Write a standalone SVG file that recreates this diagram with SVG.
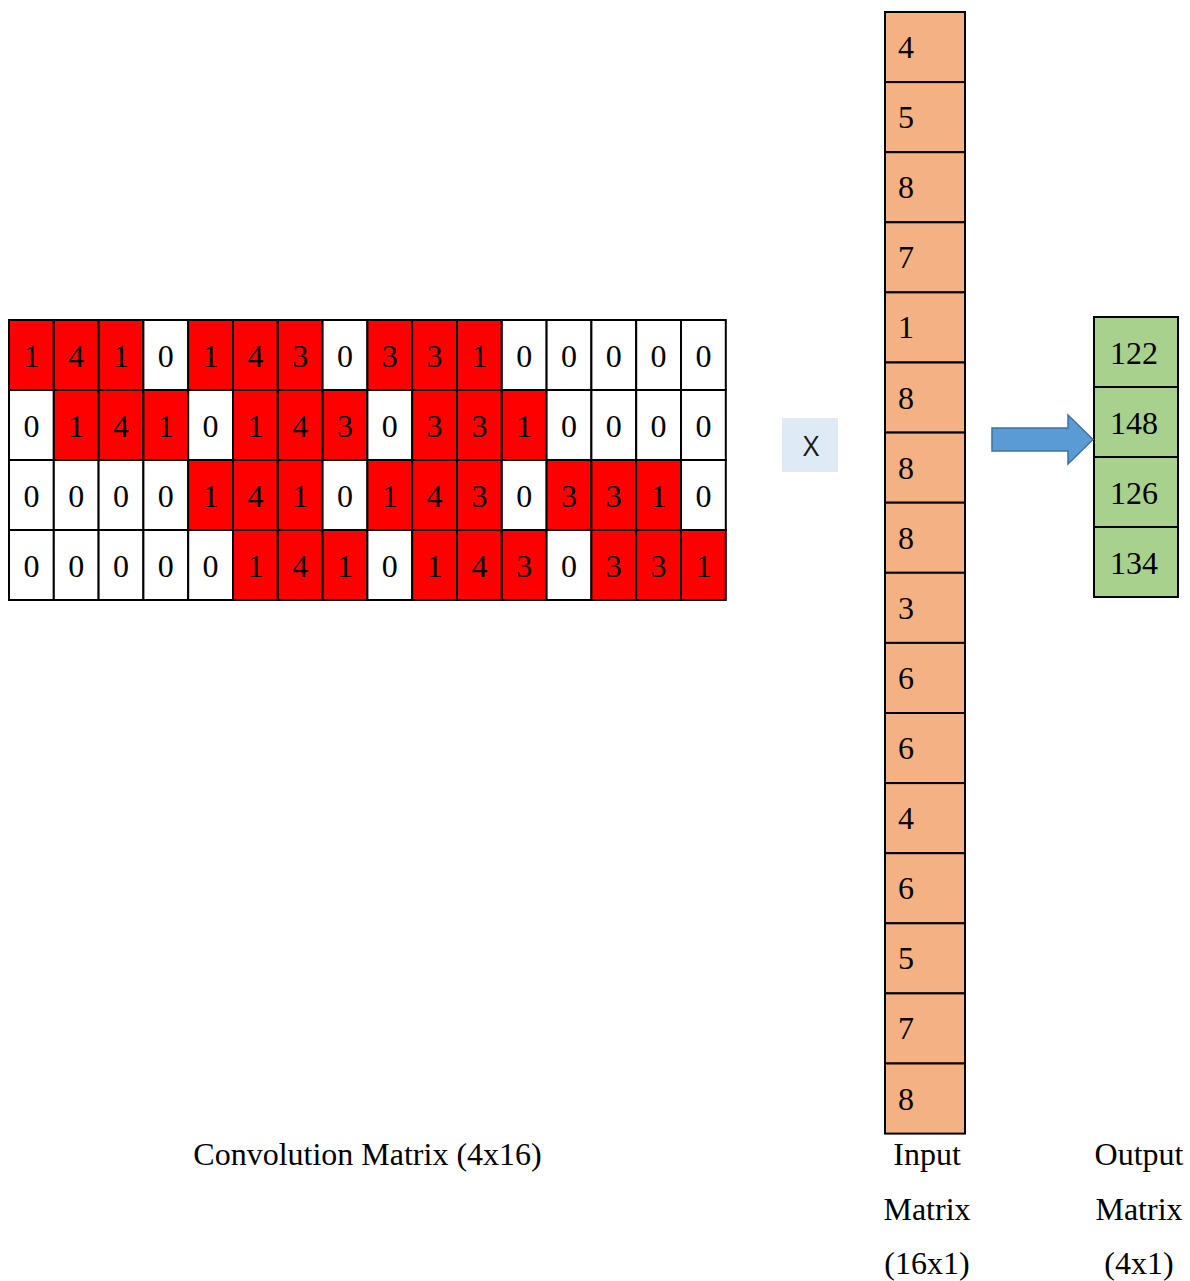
<svg xmlns="http://www.w3.org/2000/svg" width="1190" height="1281" viewBox="0 0 1190 1281">
<style>
.t{font-family:"Liberation Serif","Times New Roman",serif;font-size:32px;fill:#000}
.c{text-anchor:middle}
.r{fill:#FF0000;stroke:#000;stroke-width:2}
.w{fill:#FFFFFF;stroke:#000;stroke-width:2}
.in{fill:#F4B183;stroke:#000;stroke-width:2}
.out{fill:#A9D18E;stroke:#000;stroke-width:2}
</style>
<rect width="1190" height="1281" fill="#fff"/>
<g id="conv-matrix">
<rect class="r" x="9" y="320" width="44.8" height="70"/><rect class="r" x="53.8" y="320" width="44.8" height="70"/><rect class="r" x="98.6" y="320" width="44.8" height="70"/><rect class="w" x="143.4" y="320" width="44.8" height="70"/><rect class="r" x="188.2" y="320" width="44.8" height="70"/><rect class="r" x="233" y="320" width="44.8" height="70"/><rect class="r" x="277.8" y="320" width="44.8" height="70"/><rect class="w" x="322.6" y="320" width="44.8" height="70"/><rect class="r" x="367.4" y="320" width="44.8" height="70"/><rect class="r" x="412.2" y="320" width="44.8" height="70"/><rect class="r" x="457" y="320" width="44.8" height="70"/><rect class="w" x="501.8" y="320" width="44.8" height="70"/><rect class="w" x="546.6" y="320" width="44.8" height="70"/><rect class="w" x="591.4" y="320" width="44.8" height="70"/><rect class="w" x="636.2" y="320" width="44.8" height="70"/><rect class="w" x="681" y="320" width="44.8" height="70"/>
<rect class="w" x="9" y="390" width="44.8" height="70"/><rect class="r" x="53.8" y="390" width="44.8" height="70"/><rect class="r" x="98.6" y="390" width="44.8" height="70"/><rect class="r" x="143.4" y="390" width="44.8" height="70"/><rect class="w" x="188.2" y="390" width="44.8" height="70"/><rect class="r" x="233" y="390" width="44.8" height="70"/><rect class="r" x="277.8" y="390" width="44.8" height="70"/><rect class="r" x="322.6" y="390" width="44.8" height="70"/><rect class="w" x="367.4" y="390" width="44.8" height="70"/><rect class="r" x="412.2" y="390" width="44.8" height="70"/><rect class="r" x="457" y="390" width="44.8" height="70"/><rect class="r" x="501.8" y="390" width="44.8" height="70"/><rect class="w" x="546.6" y="390" width="44.8" height="70"/><rect class="w" x="591.4" y="390" width="44.8" height="70"/><rect class="w" x="636.2" y="390" width="44.8" height="70"/><rect class="w" x="681" y="390" width="44.8" height="70"/>
<rect class="w" x="9" y="460" width="44.8" height="70"/><rect class="w" x="53.8" y="460" width="44.8" height="70"/><rect class="w" x="98.6" y="460" width="44.8" height="70"/><rect class="w" x="143.4" y="460" width="44.8" height="70"/><rect class="r" x="188.2" y="460" width="44.8" height="70"/><rect class="r" x="233" y="460" width="44.8" height="70"/><rect class="r" x="277.8" y="460" width="44.8" height="70"/><rect class="w" x="322.6" y="460" width="44.8" height="70"/><rect class="r" x="367.4" y="460" width="44.8" height="70"/><rect class="r" x="412.2" y="460" width="44.8" height="70"/><rect class="r" x="457" y="460" width="44.8" height="70"/><rect class="w" x="501.8" y="460" width="44.8" height="70"/><rect class="r" x="546.6" y="460" width="44.8" height="70"/><rect class="r" x="591.4" y="460" width="44.8" height="70"/><rect class="r" x="636.2" y="460" width="44.8" height="70"/><rect class="w" x="681" y="460" width="44.8" height="70"/>
<rect class="w" x="9" y="530" width="44.8" height="70"/><rect class="w" x="53.8" y="530" width="44.8" height="70"/><rect class="w" x="98.6" y="530" width="44.8" height="70"/><rect class="w" x="143.4" y="530" width="44.8" height="70"/><rect class="w" x="188.2" y="530" width="44.8" height="70"/><rect class="r" x="233" y="530" width="44.8" height="70"/><rect class="r" x="277.8" y="530" width="44.8" height="70"/><rect class="r" x="322.6" y="530" width="44.8" height="70"/><rect class="w" x="367.4" y="530" width="44.8" height="70"/><rect class="r" x="412.2" y="530" width="44.8" height="70"/><rect class="r" x="457" y="530" width="44.8" height="70"/><rect class="r" x="501.8" y="530" width="44.8" height="70"/><rect class="w" x="546.6" y="530" width="44.8" height="70"/><rect class="r" x="591.4" y="530" width="44.8" height="70"/><rect class="r" x="636.2" y="530" width="44.8" height="70"/><rect class="r" x="681" y="530" width="44.8" height="70"/>
<g class="t c">
<text x="31.4" y="366.5">1</text><text x="76.2" y="366.5">4</text><text x="121" y="366.5">1</text><text x="165.8" y="366.5">0</text><text x="210.6" y="366.5">1</text><text x="255.4" y="366.5">4</text><text x="300.2" y="366.5">3</text><text x="345" y="366.5">0</text><text x="389.8" y="366.5">3</text><text x="434.6" y="366.5">3</text><text x="479.4" y="366.5">1</text><text x="524.2" y="366.5">0</text><text x="569" y="366.5">0</text><text x="613.8" y="366.5">0</text><text x="658.6" y="366.5">0</text><text x="703.4" y="366.5">0</text>
<text x="31.4" y="436.5">0</text><text x="76.2" y="436.5">1</text><text x="121" y="436.5">4</text><text x="165.8" y="436.5">1</text><text x="210.6" y="436.5">0</text><text x="255.4" y="436.5">1</text><text x="300.2" y="436.5">4</text><text x="345" y="436.5">3</text><text x="389.8" y="436.5">0</text><text x="434.6" y="436.5">3</text><text x="479.4" y="436.5">3</text><text x="524.2" y="436.5">1</text><text x="569" y="436.5">0</text><text x="613.8" y="436.5">0</text><text x="658.6" y="436.5">0</text><text x="703.4" y="436.5">0</text>
<text x="31.4" y="506.5">0</text><text x="76.2" y="506.5">0</text><text x="121" y="506.5">0</text><text x="165.8" y="506.5">0</text><text x="210.6" y="506.5">1</text><text x="255.4" y="506.5">4</text><text x="300.2" y="506.5">1</text><text x="345" y="506.5">0</text><text x="389.8" y="506.5">1</text><text x="434.6" y="506.5">4</text><text x="479.4" y="506.5">3</text><text x="524.2" y="506.5">0</text><text x="569" y="506.5">3</text><text x="613.8" y="506.5">3</text><text x="658.6" y="506.5">1</text><text x="703.4" y="506.5">0</text>
<text x="31.4" y="576.5">0</text><text x="76.2" y="576.5">0</text><text x="121" y="576.5">0</text><text x="165.8" y="576.5">0</text><text x="210.6" y="576.5">0</text><text x="255.4" y="576.5">1</text><text x="300.2" y="576.5">4</text><text x="345" y="576.5">1</text><text x="389.8" y="576.5">0</text><text x="434.6" y="576.5">1</text><text x="479.4" y="576.5">4</text><text x="524.2" y="576.5">3</text><text x="569" y="576.5">0</text><text x="613.8" y="576.5">3</text><text x="658.6" y="576.5">3</text><text x="703.4" y="576.5">1</text>
</g>
</g>
<g id="multiply-op">
<rect x="782" y="418" width="56" height="54" fill="#DEEBF7"/>
<text x="811" y="456" text-anchor="middle" style="font-family:'Open Sans','Noto Sans',sans-serif;font-size:28px;fill:#1a1a1a">X</text>
</g>
<g id="input-matrix">
<rect class="in" x="885" y="12" width="80" height="70.1"/><rect class="in" x="885" y="82.1" width="80" height="70.1"/><rect class="in" x="885" y="152.2" width="80" height="70.1"/><rect class="in" x="885" y="222.3" width="80" height="70.1"/><rect class="in" x="885" y="292.4" width="80" height="70.1"/><rect class="in" x="885" y="362.5" width="80" height="70.1"/><rect class="in" x="885" y="432.6" width="80" height="70.1"/><rect class="in" x="885" y="502.7" width="80" height="70.1"/><rect class="in" x="885" y="572.8" width="80" height="70.1"/><rect class="in" x="885" y="642.9" width="80" height="70.1"/><rect class="in" x="885" y="713" width="80" height="70.1"/><rect class="in" x="885" y="783.1" width="80" height="70.1"/><rect class="in" x="885" y="853.2" width="80" height="70.1"/><rect class="in" x="885" y="923.3" width="80" height="70.1"/><rect class="in" x="885" y="993.4" width="80" height="70.1"/><rect class="in" x="885" y="1063.5" width="80" height="70.1"/>
<g class="t">
<text x="898" y="58">4</text><text x="898" y="128.1">5</text><text x="898" y="198.2">8</text><text x="898" y="268.3">7</text><text x="898" y="338.4">1</text><text x="898" y="408.5">8</text><text x="898" y="478.6">8</text><text x="898" y="548.7">8</text><text x="898" y="618.8">3</text><text x="898" y="688.9">6</text><text x="898" y="759">6</text><text x="898" y="829.1">4</text><text x="898" y="899.2">6</text><text x="898" y="969.3">5</text><text x="898" y="1039.4">7</text><text x="898" y="1109.5">8</text>
</g>
</g>
<g id="output-matrix">
<rect class="out" x="1094" y="317" width="84" height="70"/><rect class="out" x="1094" y="387" width="84" height="70"/><rect class="out" x="1094" y="457" width="84" height="70"/><rect class="out" x="1094" y="527" width="84" height="70"/>
<g class="t c">
<text x="1134" y="364">122</text><text x="1134" y="434">148</text><text x="1134" y="504">126</text><text x="1134" y="574">134</text>
</g>
</g>
<g id="connectors">
<path d="M992,428 L1068,428 L1068,415 L1093,439.5 L1068,464 L1068,451 L992,451 Z" fill="#5B9BD5" stroke="#41719C" stroke-width="1.5"/>
</g>
<g id="labels" class="t c">
<text x="367.5" y="1165">Convolution Matrix (4x16)</text>
<text x="927" y="1165">Input</text>
<text x="927" y="1220">Matrix</text>
<text x="927" y="1274">(16x1)</text>
<text x="1139" y="1165">Output</text>
<text x="1139" y="1220">Matrix</text>
<text x="1139" y="1274">(4x1)</text>
</g>
</svg>
